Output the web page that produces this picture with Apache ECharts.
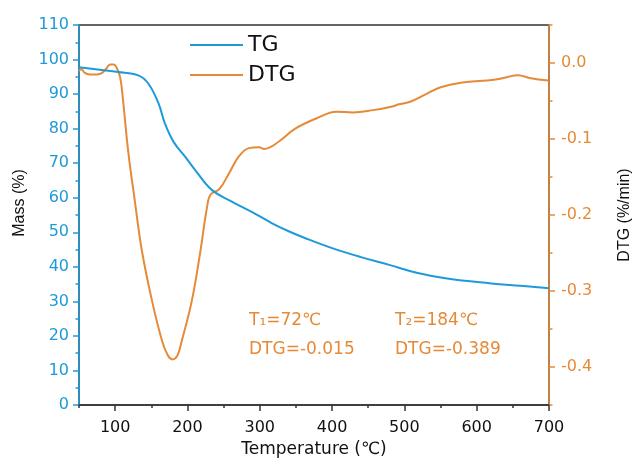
<!DOCTYPE html>
<html>
<head>
<meta charset="utf-8">
<script src="https://cdn.jsdelivr.net/npm/echarts@6/dist/echarts.min.js"></script>
<style>html,body{margin:0;padding:0;background:#fff}#c{width:637px;height:468px}</style>
</head>
<body>
<div id="c"></div>
<script>
// TG: temperature (°C) and mass (%)
const tgTemp = [50, 76, 104, 132, 146, 160, 169, 181, 197, 211, 234, 262, 271, 295, 317, 340, 364, 400, 440, 480, 517, 559, 620, 660, 700];
const tgMass = [97.8, 97.1, 96.4, 95.4, 93.0, 87.3, 81.4, 76.1, 71.8, 67.9, 62.2, 58.8, 57.8, 55.2, 52.6, 50.3, 48.2, 45.4, 42.8, 40.5, 38.3, 36.6, 35.2, 34.5, 33.8];
// DTG: temperature (°C) and rate (%/min)
const dtgTemp = [50, 53, 58, 65, 75, 82, 88, 93, 98, 102, 107, 111, 118, 127, 137, 151, 165, 173, 179, 186, 192, 206, 218, 227, 232, 244, 257, 271, 285, 299, 306, 327, 348, 378, 406, 429, 457, 480, 494, 508, 530, 550, 578, 624, 640, 657, 675, 699];
const dtgRate = [-0.011, -0.008, -0.013, -0.015, -0.015, -0.013, -0.007, -0.002, -0.002, -0.006, -0.019, -0.05, -0.116, -0.18, -0.247, -0.313, -0.366, -0.385, -0.39, -0.385, -0.366, -0.313, -0.247, -0.19, -0.173, -0.166, -0.146, -0.123, -0.112, -0.111, -0.113, -0.103, -0.087, -0.073, -0.064, -0.065, -0.062, -0.058, -0.054, -0.051, -0.041, -0.032, -0.026, -0.022, -0.019, -0.016, -0.020, -0.023];
// tick labels
const xLabels = [100, 200, 300, 400, 500, 600, 700];
const dtgLabels = [-0.4, -0.3, -0.2, -0.1, 0];
const notes = [['T\u2081=72\u2103', 'DTG=-0.015'], ['T\u2082=184\u2103', 'DTG=-0.389']];

const BLUE = '#1f9ad9';
const ORANGE = '#e58a37';
const HFONT = 'DejaVu Sans';
const VFONT = 'Liberation Sans';

const chart = echarts.init(document.getElementById('c'), null, {renderer: 'canvas'});
const tg = tgTemp.map((t, i) => [t, tgMass[i]]);
const dtg = dtgTemp.map((t, i) => [t, dtgRate[i]]);

chart.setOption({
  animation: false,
  backgroundColor: '#fff',
  grid: {left: 79, right: 88, top: 25, bottom: 63, show: true, borderColor: '#333', borderWidth: 1.5,
    backgroundColor: 'transparent', containLabel: false, outerBoundsMode: 'none'},
  legend: {
    orient: 'vertical', left: 190, top: 34, padding: 0, itemWidth: 53, itemHeight: 2, itemGap: 8,
    icon: 'rect',
    textStyle: {fontFamily: HFONT, fontSize: 22, color: '#111', lineHeight: 22},
    data: ['TG', 'DTG']
  },
  xAxis: [{
    type: 'value', min: 50, max: 700, interval: 50,
    name: 'Temperature (\u2103)', nameLocation: 'middle', nameGap: 33,
    nameTextStyle: {fontFamily: HFONT, fontSize: 17, color: '#111'},
    axisLine: {onZero: false, lineStyle: {color: '#333', width: 1.5}},
    axisTick: {length: 3, lineStyle: {color: '#333', width: 1.5}},
    axisLabel: {customValues: xLabels, fontFamily: HFONT, fontSize: 16, color: '#111', margin: 15},
    splitLine: {show: false}
  }, {
    type: 'value', min: 50, max: 700, interval: 50, position: 'bottom',
    axisLine: {show: false, onZero: false},
    axisTick: {customValues: xLabels, length: 6, lineStyle: {color: '#333', width: 1.5}},
    axisLabel: {show: false}, splitLine: {show: false}
  }],
  yAxis: [{
    type: 'value', min: 0, max: 110, interval: 10, position: 'left',
    name: 'Mass (%)', nameLocation: 'middle', nameGap: 38, nameRotate: 90,
    nameTextStyle: {fontFamily: VFONT, fontSize: 16, color: '#111', padding: [0, 0, 0, 24]},
    axisLine: {show: true, onZero: false, lineStyle: {color: BLUE, width: 1.5}},
    axisTick: {show: true, length: 6, lineStyle: {color: BLUE, width: 1.5}},
    minorTick: {show: true, splitNumber: 2, length: 3.5, lineStyle: {color: BLUE, width: 1.5}},
    axisLabel: {fontFamily: HFONT, fontSize: 16, color: BLUE, margin: 10},
    splitLine: {show: false}
  }, {
    type: 'value', min: -0.45, max: 0.05, interval: 0.05, position: 'right',
    name: 'DTG (%/min)', nameLocation: 'middle', nameGap: 68, nameRotate: 90,
    nameTextStyle: {fontFamily: VFONT, fontSize: 16, color: '#111'},
    axisLine: {show: true, onZero: false, lineStyle: {color: ORANGE, width: 1.5}},
    axisTick: {show: true, length: 3.5, lineStyle: {color: ORANGE, width: 1.5}},
    axisLabel: {customValues: dtgLabels, fontFamily: HFONT, fontSize: 16, color: ORANGE, margin: 12,
      formatter: v => (Math.round(v * 10) / 10).toFixed(1)},
    splitLine: {show: false}
  }, {
    type: 'value', min: -0.45, max: 0.05, interval: 0.05, position: 'right',
    axisLine: {show: false, onZero: false},
    axisTick: {show: true, customValues: dtgLabels, length: 6, lineStyle: {color: ORANGE, width: 1.5}},
    axisLabel: {show: false}, splitLine: {show: false}
  }],
  series: [{
    name: 'TG', type: 'line', xAxisIndex: 0, yAxisIndex: 0, data: tg, smooth: 0.4, showSymbol: false, symbol: 'none',
    lineStyle: {color: BLUE, width: 2}, itemStyle: {color: BLUE}, z: 3
  }, {
    name: 'DTG', type: 'line', xAxisIndex: 0, yAxisIndex: 1, data: dtg, smooth: 0.4, showSymbol: false, symbol: 'none',
    lineStyle: {color: ORANGE, width: 2}, itemStyle: {color: ORANGE}, z: 2
  }],
  graphic: [
    {type: 'text', left: 249, top: 312, style: {text: notes[0][0], fill: ORANGE, font: '17px "DejaVu Sans"'}},
    {type: 'text', left: 249, top: 341, style: {text: notes[0][1], fill: ORANGE, font: '17px "DejaVu Sans"'}},
    {type: 'text', left: 395, top: 312, style: {text: notes[1][0], fill: ORANGE, font: '17px "DejaVu Sans"'}},
    {type: 'text', left: 395, top: 341, style: {text: notes[1][1], fill: ORANGE, font: '17px "DejaVu Sans"'}}
  ]
});
</script>
</body>
</html>
